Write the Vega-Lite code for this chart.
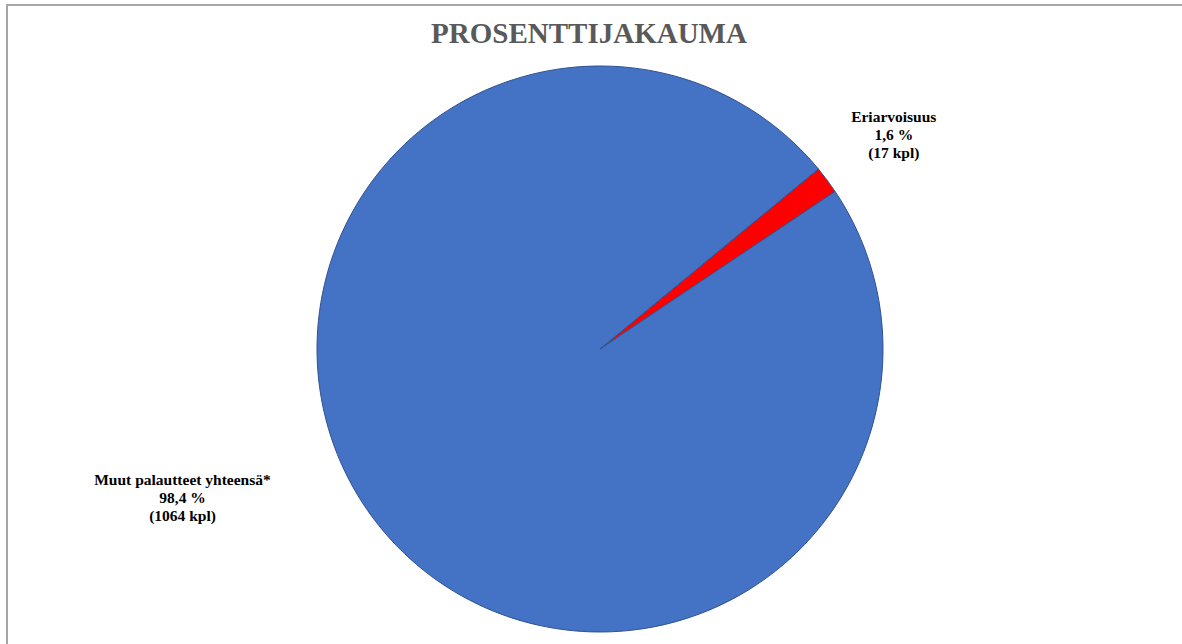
{
  "$schema": "https://vega.github.io/schema/vega-lite/v6.json",
  "autosize": "none",
  "padding": {"left": 7, "top": 5, "right": 0, "bottom": 0},
  "width": 1186,
  "height": 688,
  "background": "white",
  "view": {"stroke": "#A6A6A6", "strokeWidth": 2, "fill": "white"},
  "config": {
    "view": {"stroke": "#A6A6A6", "strokeWidth": 2},
    "font": "Liberation Serif"
  },
  "title": {
    "text": "PROSENTTIJAKAUMA",
    "font": "Liberation Serif",
    "fontSize": 29,
    "fontWeight": "bold",
    "color": "#595959",
    "anchor": "middle",
    "offset": -44,
    "dx": -11
  },
  "data": {
    "values": [
      {"luokka": "Eriarvoisuus", "kpl": 17, "osuus": "1,6 %"},
      {"luokka": "Muut palautteet yhteensä*", "kpl": 1064, "osuus": "98,4 %"}
    ]
  },
  "encoding": {
    "theta": {"field": "kpl", "type": "quantitative", "stack": true, "scale": {"range": [0.8814, 7.1646]}},
    "color": {"field": "luokka", "type": "nominal", "scale": {"domain": ["Eriarvoisuus", "Muut palautteet yhteensä*"], "range": ["#FF0000", "#4472C4"]}, "legend": null}
  },
  "layer": [
    {"mark": {"type": "arc", "outerRadius": 283, "stroke": "#2F528F", "strokeWidth": 1}},
    {
      "transform": [{"filter": "datum.kpl < 100"}],
      "mark": {"type": "text", "radius": 360, "dx": 5, "dy": -17, "align": "center", "baseline": "middle", "font": "Liberation Serif", "fontSize": 15.5, "fontWeight": "bold", "fill": "#000000", "lineHeight": 18},
      "encoding": {
        "text": {"value": ["Eriarvoisuus", "1,6 %", "(17 kpl)"]},
        "color": {"value": "#000000"}
      }
    },
    {
      "transform": [{"filter": "datum.kpl > 100"}],
      "mark": {"type": "text", "radius": 420, "dx": -107, "dy": -152, "align": "center", "baseline": "middle", "font": "Liberation Serif", "fontSize": 15.5, "fontWeight": "bold", "fill": "#000000", "lineHeight": 18},
      "encoding": {
        "text": {"value": ["Muut  palautteet yhteensä*", "98,4 %", "(1064 kpl)"]},
        "color": {"value": "#000000"}
      }
    }
  ]
}
